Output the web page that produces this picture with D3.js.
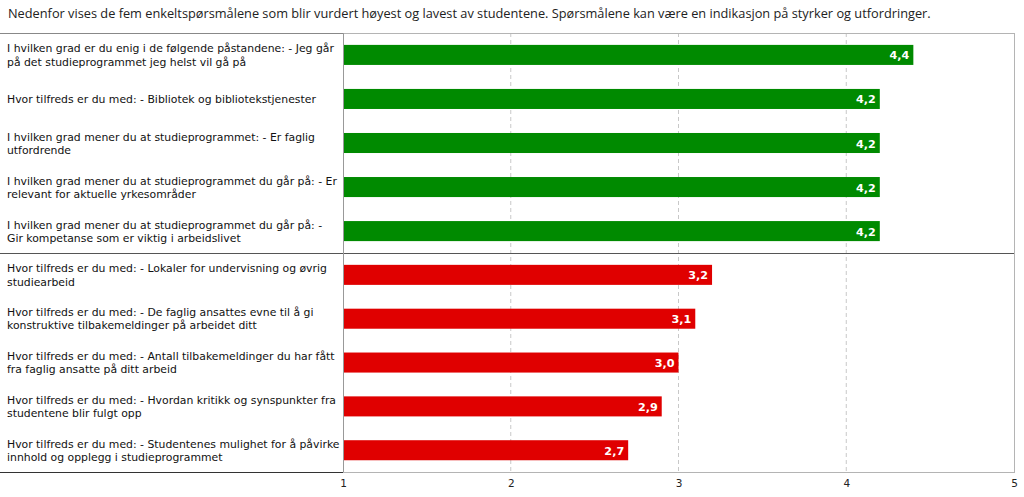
<!DOCTYPE html>
<html>
<head>
<meta charset="utf-8">
<script src="https://cdn.jsdelivr.net/npm/d3@7"></script>
<style>
html,body{margin:0;padding:0;background:#fff;}
svg{display:block;}
</style>
</head>
<body>
<svg id="chart" width="1024" height="497"></svg>
<script>
const title = "Nedenfor vises de fem enkeltspørsmålene som blir vurdert høyest og lavest av studentene. Spørsmålene kan være en indikasjon på styrker og utfordringer.";

const topCategories = [
  "I hvilken grad er du enig i de følgende påstandene: - Jeg går\npå det studieprogrammet jeg helst vil gå på",
  "Hvor tilfreds er du med: - Bibliotek og bibliotekstjenester",
  "I hvilken grad mener du at studieprogrammet: - Er faglig\nutfordrende",
  "I hvilken grad mener du at studieprogrammet du går på: - Er\nrelevant for aktuelle yrkesområder",
  "I hvilken grad mener du at studieprogrammet du går på: -\nGir kompetanse som er viktig i arbeidslivet"
];
const topValues = [4.4, 4.2, 4.2, 4.2, 4.2];

const bottomCategories = [
  "Hvor tilfreds er du med: - Lokaler for undervisning og øvrig\nstudiearbeid",
  "Hvor tilfreds er du med: - De faglig ansattes evne til å gi\nkonstruktive tilbakemeldinger på arbeidet ditt",
  "Hvor tilfreds er du med: - Antall tilbakemeldinger du har fått\nfra faglig ansatte på ditt arbeid",
  "Hvor tilfreds er du med: - Hvordan kritikk og synspunkter fra\nstudentene blir fulgt opp",
  "Hvor tilfreds er du med: - Studentenes mulighet for å påvirke\ninnhold og opplegg i studieprogrammet"
];
const bottomValues = [3.2, 3.1, 3.0, 2.9, 2.7];

const tickValues = [1, 2, 3, 4, 5];

const rows = topCategories.map((c, i) => ({label: c, value: topValues[i], group: "top"}))
  .concat(bottomCategories.map((c, i) => ({label: c, value: bottomValues[i], group: "bottom"})));

const svg = d3.select("#chart");
const plotLeft = 343, plotRight = 1014, plotTop = 33, plotBottom = 472, divider = 253;

const x = d3.scaleLinear().domain([1, 5]).range([plotLeft, plotRight]);
const yTop = d3.scaleBand().domain(d3.range(5)).range([plotTop, divider]).paddingInner(0.545).paddingOuter(0.27);
const yBot = d3.scaleBand().domain(d3.range(5)).range([divider, plotBottom]).paddingInner(0.545).paddingOuter(0.27);
const yPos = (d, i) => i < 5 ? yTop(i) : yBot(i - 5);
const bw = yTop.bandwidth();
const colors = {top: "#008a00", bottom: "#e00000"};

// title
svg.append("text").attr("x", 8).attr("y", 18)
  .attr("font-family", "Open Sans, sans-serif").attr("font-size", 12.78).attr("fill", "#222")
  .text(title);

// grid lines
svg.append("g").selectAll("line").data(tickValues.slice(1, -1)).join("line")
  .attr("x1", d => x(d)).attr("x2", d => x(d))
  .attr("y1", plotTop).attr("y2", plotBottom)
  .attr("stroke", "#c8c8c8").attr("stroke-dasharray", "4,3");

// plot frame
svg.append("rect").attr("x", plotLeft + 0.5).attr("y", plotTop + 0.5)
  .attr("width", plotRight - plotLeft).attr("height", plotBottom - plotTop)
  .attr("fill", "none").attr("stroke", "#b4b4b4");

// label column lines
svg.append("line").attr("x1", 0).attr("x2", plotLeft).attr("y1", plotTop + 0.5).attr("y2", plotTop + 0.5).attr("stroke", "#888");
svg.append("line").attr("x1", 0).attr("x2", plotRight).attr("y1", divider + 0.5).attr("y2", divider + 0.5).attr("stroke", "#555");
svg.append("line").attr("x1", 0).attr("x2", plotLeft).attr("y1", plotBottom + 0.5).attr("y2", plotBottom + 0.5).attr("stroke", "#333");
svg.append("line").attr("x1", plotLeft + 0.5).attr("x2", plotLeft + 0.5).attr("y1", plotTop).attr("y2", plotBottom).attr("stroke", "#999");

// bars
svg.append("g").selectAll("rect").data(rows).join("rect")
  .attr("x", x(1) + 1).attr("y", (d, i) => yPos(d, i))
  .attr("width", d => x(d.value) - x(1) - 1).attr("height", bw)
  .attr("fill", d => colors[d.group]);

// value labels
svg.append("g").selectAll("text").data(rows).join("text")
  .attr("x", d => x(d.value) - 4).attr("y", (d, i) => yPos(d, i) + bw / 2 + 4.5)
  .attr("text-anchor", "end").attr("font-family", "DejaVu Sans, Verdana, sans-serif")
  .attr("font-size", 11.2).attr("font-weight", "bold").attr("fill", "#fff")
  .text(d => d3.format(".1f")(d.value).replace(".", ","));

// category labels
const lab = svg.append("g").selectAll("text").data(rows).join("text")
  .attr("font-family", "DejaVu Sans, Verdana, sans-serif").attr("font-size", 10.85).attr("fill", "#111")
  .attr("x", 7)
  .attr("y", (d, i) => {
    const n = d.label.split("\n").length;
    return yPos(d, i) + bw / 2 + 4 - (n - 1) * 6.5;
  });
lab.selectAll("tspan").data(d => d.label.split("\n")).join("tspan")
  .attr("x", 7).attr("dy", (d, i) => i === 0 ? 0 : 13.2).text(d => d);

// axis
const axis = d3.axisBottom(x).tickValues(tickValues).tickSize(0).tickPadding(8).tickFormat(d3.format("d"));
const ag = svg.append("g").attr("transform", `translate(0,${plotBottom})`).call(axis);
ag.select(".domain").remove();
ag.selectAll("text").attr("font-family", "DejaVu Sans, Verdana, sans-serif").attr("font-size", 10.5).attr("fill", "#222");
</script>
</body>
</html>
